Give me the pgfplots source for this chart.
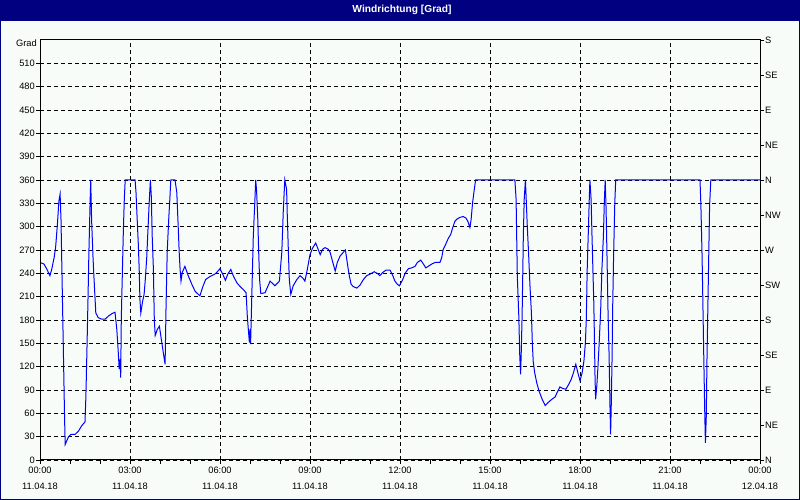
\documentclass[border=0pt]{standalone}
\usepackage{fontspec}
\setmainfont{Liberation Sans}
\usepackage{graphicx}
\usepackage{pgfplots}
\pgfplotsset{compat=1.18}
\definecolor{navy}{HTML}{000080}
\definecolor{bg}{HTML}{F8FCF8}
\definecolor{lineblue}{HTML}{0000FF}
\newcommand{\tf}{\fontsize{9.3}{16}\selectfont}
\begin{document}
\begin{tikzpicture}[x=1pt,y=1pt]
\fill[bg] (0,0) rectangle (800,500);
\fill[navy] (0,479) rectangle (800,500);
\draw[navy,line width=1pt] (0.5,0.5) rectangle (799.5,499.5);
\node[white,font=\bfseries\fontsize{10.2}{12}\selectfont] at (402,490) {Windrichtung [Grad]};
\begin{axis}[
  at={(40pt,40pt)}, anchor=south west, scale only axis,
  width=720pt, height=420pt,
  xmin=0, xmax=24, ymin=0, ymax=540,
  xtick={0,3,...,24},
  minor xtick={1,2,4,5,7,8,10,11,13,14,16,17,19,20,22,23},
  xticklabels={00:00\\11.04.18,03:00\\11.04.18,06:00\\11.04.18,09:00\\11.04.18,12:00\\11.04.18,15:00\\11.04.18,18:00\\11.04.18,21:00\\11.04.18,00:00\\12.04.18},
  ytick={0,30,...,510},
  xtick pos=bottom, ytick pos=left,
  tick align=outside,
  major tick length=4pt, minor tick length=4pt,
  tick style={black, line width=0.8pt},
  axis line style={black, line width=1pt},
  grid=major,
  major grid style={black, line width=0.8pt, dash pattern=on 4pt off 3pt},
  xticklabel style={align=center, font=\tf, inner ysep=3pt},
  yticklabel style={font=\tf, inner xsep=1pt},
  /pgf/number format/assume math mode=true,
  clip=false,
]
\addplot[lineblue, line width=1pt] coordinates {
(0,254) (0.13,252) (0.22,246) (0.33,237) (0.39,245) (0.47,260) (0.52,273) (0.58,303) (0.63,333) (0.67,342) (0.7,309) (0.73,245) (0.76,181) (0.79,117) (0.82,52) (0.84,20) (0.94,29) (1.03,33) (1.17,33) (1.28,37) (1.39,44) (1.5,49) (1.53,82) (1.57,151) (1.6,207) (1.63,267) (1.67,331) (1.69,360) (1.72,309) (1.76,267) (1.79,241) (1.82,219) (1.86,189) (1.94,183) (2.06,181) (2.17,181) (2.28,185) (2.39,188) (2.5,190) (2.56,168) (2.61,138) (2.64,117) (2.67,130) (2.69,106) (2.71,181) (2.74,232) (2.78,297) (2.81,335) (2.84,360) (3.17,360) (3.2,344) (3.24,309) (3.28,275) (3.31,241) (3.33,207) (3.36,189) (3.42,204) (3.47,213) (3.51,232) (3.56,262) (3.6,297) (3.64,331) (3.68,360) (3.71,339) (3.74,288) (3.78,245) (3.81,181) (3.84,160) (3.91,168) (3.98,172)
(4.06,151) (4.11,138) (4.17,123) (4.2,194) (4.24,267) (4.29,309) (4.33,337) (4.36,360) (4.5,360) (4.56,344) (4.61,297) (4.64,267) (4.67,245) (4.7,230) (4.74,241) (4.83,249) (4.94,237) (5.06,226) (5.17,217) (5.33,211) (5.42,222) (5.52,232) (5.67,236) (5.83,239) (5.91,242) (6.0,246) (6.09,239) (6.18,231) (6.26,239) (6.36,245) (6.44,237) (6.56,228) (6.67,223) (6.78,219) (6.87,215) (6.91,185) (6.94,170) (6.98,151) (7.0,168) (7.02,149) (7.06,211) (7.11,288) (7.16,331) (7.19,360) (7.22,346) (7.26,309) (7.29,267) (7.32,232) (7.36,214) (7.5,215) (7.58,222) (7.67,230) (7.83,224) (7.98,230)
(8.06,267) (8.11,321) (8.16,360) (8.22,348) (8.24,318) (8.28,267) (8.31,232) (8.36,213) (8.44,224) (8.56,232) (8.67,237) (8.76,234) (8.83,230) (8.91,245) (9.0,264) (9.08,272) (9.19,279) (9.27,271) (9.34,264) (9.42,271) (9.5,273) (9.61,271) (9.67,267) (9.76,254) (9.84,243) (9.91,254) (10.0,262) (10.11,267) (10.18,270) (10.26,249) (10.31,237) (10.37,226) (10.44,223) (10.56,221) (10.67,225) (10.78,232) (10.89,237) (11.0,239) (11.14,242) (11.24,240) (11.33,237) (11.42,241) (11.53,244) (11.67,244) (11.76,237) (11.83,230) (11.91,226) (11.98,224)
(12.09,232) (12.17,240) (12.28,246) (12.39,247) (12.5,249) (12.58,254) (12.69,257) (12.78,252) (12.86,247) (12.94,249) (13.06,252) (13.17,254) (13.24,254) (13.33,254) (13.39,260) (13.44,271) (13.52,277) (13.61,285) (13.69,290) (13.76,299) (13.83,307) (13.91,310) (14.0,312) (14.11,313) (14.2,311) (14.26,307) (14.33,299) (14.37,309) (14.42,331) (14.47,346) (14.52,360) (15.83,360)
(15.87,335) (15.89,286) (15.91,237) (15.96,185) (15.99,136) (16.02,110) (16.04,136) (16.07,185) (16.09,234) (16.11,286) (16.14,335) (16.18,360) (16.2,342) (16.24,303) (16.29,262) (16.33,226) (16.38,189) (16.41,151) (16.44,127) (16.49,112) (16.56,99) (16.64,88) (16.74,78) (16.84,70) (16.94,74) (17.06,78) (17.17,81) (17.24,87) (17.33,94) (17.42,92) (17.53,91) (17.62,97) (17.71,104) (17.78,112) (17.86,123) (17.93,112) (18.0,102) (18.07,112) (18.13,127) (18.18,151) (18.21,181) (18.24,245) (18.28,297) (18.31,337) (18.33,360) (18.37,335) (18.4,288) (18.43,245) (18.46,202) (18.48,159) (18.5,108) (18.52,78) (18.56,95) (18.6,121) (18.64,151) (18.69,194) (18.73,245) (18.78,288) (18.81,331) (18.84,360) (18.87,322) (18.9,262) (18.93,198) (18.97,134) (19.0,67) (19.02,33) (19.04,67) (19.07,134) (19.09,198) (19.12,262) (19.16,331) (19.19,360) (22.0,360) (22.03,327) (22.07,260) (22.1,192) (22.13,123) (22.16,57) (22.18,22) (22.21,57) (22.23,123) (22.26,192) (22.29,260) (22.32,327) (22.36,360) (24,360)
};
\node[anchor=east, font=\tf, inner sep=0pt] at (rel axis cs:0,1) [xshift=-3pt, yshift=-3pt] {Grad};
\end{axis}
\begin{axis}[
  at={(40pt,40pt)}, anchor=south west, scale only axis,
  width=720pt, height=420pt,
  xmin=0, xmax=24, ymin=0, ymax=540,
  hide x axis,
  ytick={0,45,...,540},
  yticklabels={N,NE,E,SE,S,SW,W,NW,N,NE,E,SE,S},
  ytick pos=right, yticklabel pos=right,
  tick align=outside, major tick length=4pt,
  tick style={black, line width=0.8pt},
  axis line style={black, line width=1pt},
  yticklabel style={font=\tf, inner xsep=1pt},
]
\end{axis}
\pgfresetboundingbox
\path[use as bounding box] (0,0) rectangle (800,500);
\end{tikzpicture}
\end{document}
